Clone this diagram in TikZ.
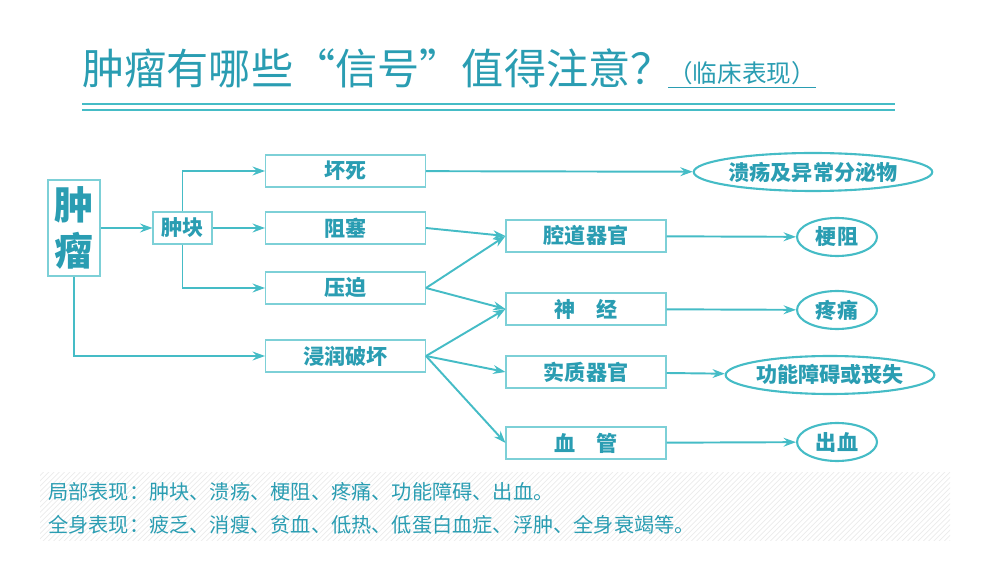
\documentclass[tikz,border=0pt]{standalone}
\usepackage{fontspec}
\newfontfamily\cjk{Noto Sans CJK SC}
\usetikzlibrary{arrows.meta,shapes.geometric,patterns}
\definecolor{tl}{HTML}{45BCC6}
\definecolor{tx}{HTML}{2A9DB2}
\begin{document}
\begin{tikzpicture}[x=0.02cm,y=-0.02cm,font=\cjk,
 bx/.style={draw=tl!70,line width=0.6pt,minimum height=0.64cm,inner sep=0pt,text=tx,font=\cjk\fontsize{12}{12}\selectfont\bfseries},
 rb/.style={bx,minimum width=3.2cm},
 el/.style={ellipse,draw=tl,line width=1.2pt,text=tx,inner sep=0pt,minimum height=0.76cm,font=\cjk\fontsize{12}{12}\selectfont\bfseries},
 ar/.style={draw=tl,line width=1.1pt,-{Stealth[length=7pt,width=5pt]}}]
\useasboundingbox (0,0) rectangle (1000,563);
\node[anchor=west,text=tx,font=\cjk\fontsize{24}{24}\selectfont,inner sep=0pt] (t) at (82,68) {肿瘤有哪些“信号”值得注意？};
\node[anchor=west,text=tx,font=\cjk\fontsize{14}{14}\selectfont,inner sep=0pt] (t2) at (668,75) {\underline{（临床表现）}};
\draw[tl,line width=0.8pt] (82,104) -- (895,104) (82,110) -- (895,110);
\node[bx,minimum width=1.04cm,minimum height=1.92cm,font=\cjk\fontsize{22}{26}\selectfont\bfseries,align=center] (zl) at (74,228) {肿\\瘤};
\node[bx,minimum width=1.18cm] (zk) at (182.5,228) {肿块};
\node[rb] (hs) at (345.5,171) {坏死};
\node[rb] (zs) at (345.5,228) {阻塞};
\node[rb] (yp) at (345.5,288) {压迫};
\node[rb] (jr) at (345.5,356) {浸润破坏};
\node[rb] (qd) at (586,236) {腔道器官};
\node[rb] (sj) at (586,309) {神\quad 经};
\node[rb] (sz) at (586,372) {实质器官};
\node[rb] (xg) at (586,443) {血\quad 管};
\node[el,minimum width=4cm] (e1) at (813,172) {溃疡及异常分泌物};
\node[el,minimum width=1.6cm] (e2) at (837,237) {梗阻};
\node[el,minimum width=1.6cm] (e3) at (837,310) {疼痛};
\node[el,minimum width=3.9cm] (e4) at (830,375) {功能障碍或丧失};
\node[el,minimum width=1.6cm] (e5) at (837,442) {出血};
\draw[ar] (zl) -- (zk);
\draw[ar] (zk) -- (zs);
\draw[ar] (zk.north) |- (hs);
\draw[ar] (zk.south) |- (yp);
\draw[ar] (zl.south) |- (jr);
\draw[ar] (hs) -- (e1);
\draw[ar] (zs.east) -- (qd.west);
\draw[ar] (yp.east) -- (qd.west);
\draw[ar] (yp.east) -- (sj.west);
\draw[ar] (jr.east) -- (sj.west);
\draw[ar] (jr.east) -- (sz.west);
\draw[ar] (jr.east) -- (xg.west);
\draw[ar] (qd) -- (e2);
\draw[ar] (sj) -- (e3);
\draw[ar] (sz) -- (e4);
\draw[ar] (xg) -- (e5);
\fill[pattern=north east lines,pattern color=black!8] (40,472) rectangle (950,540);
\node[anchor=west,text=tx,font=\cjk\fontsize{11.5}{12}\selectfont,inner sep=0pt] (l1) at (48,492) {局部表现：肿块、溃疡、梗阻、疼痛、功能障碍、出血。};
\node[anchor=west,text=tx,font=\cjk\fontsize{11.5}{12}\selectfont,inner sep=0pt] (l2) at (48,525) {全身表现：疲乏、消瘦、贫血、低热、低蛋白血症、浮肿、全身衰竭等。};
\end{tikzpicture}
\end{document}
